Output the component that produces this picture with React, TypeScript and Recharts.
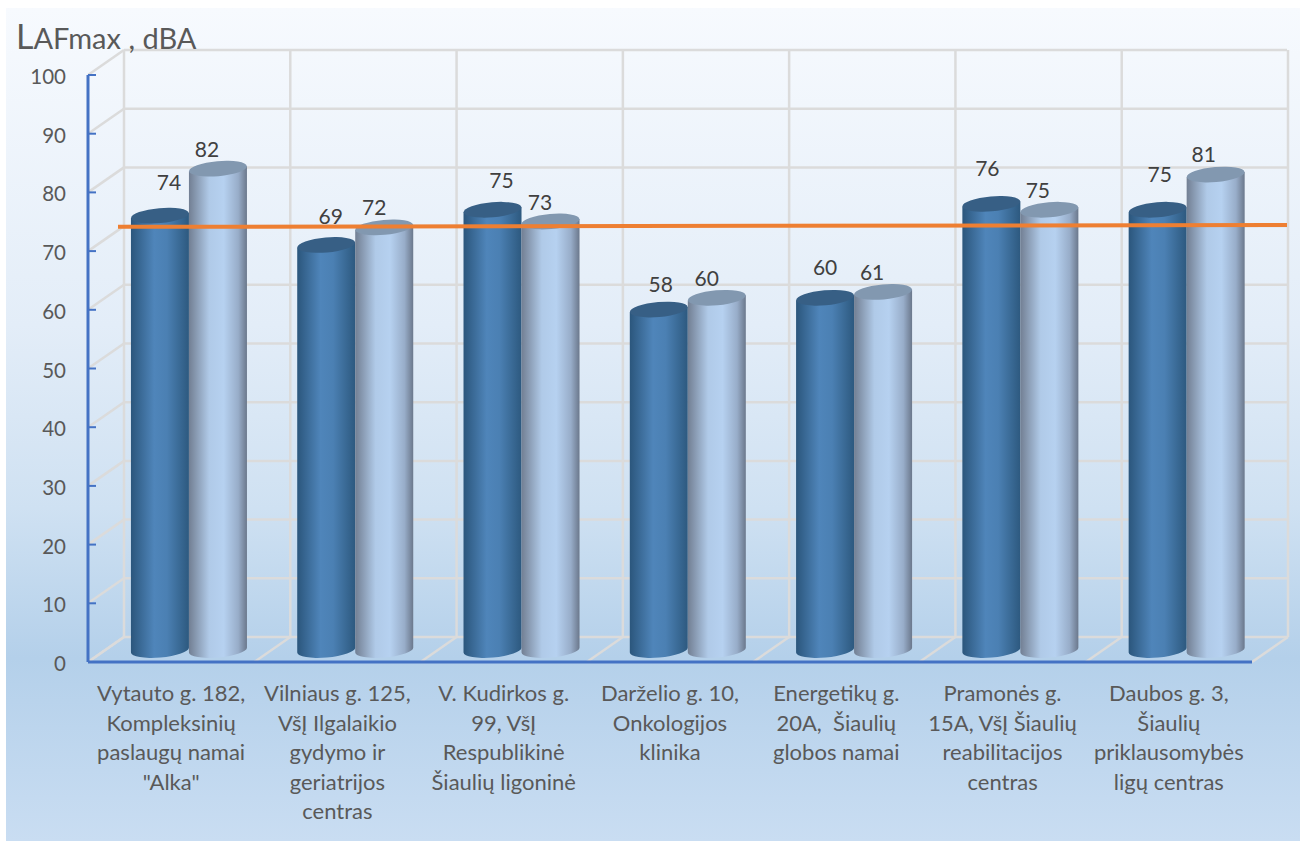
import { BarChart, Bar, XAxis, YAxis, CartesianGrid, LabelList, ReferenceLine } from "recharts";

const CATEGORIES = [
  'Vytauto g. 182,|Kompleksinių|paslaugų namai|"Alka"',
  "Vilniaus g. 125,|VšĮ Ilgalaikio|gydymo ir|geriatrijos|centras",
  "V. Kudirkos g.|99, VšĮ|Respublikinė|Šiaulių ligoninė",
  "Darželio g. 10,|Onkologijos|klinika",
  "Energetikų g.|20A,  Šiaulių|globos namai",
  "Pramonės g.|15A, VšĮ Šiaulių|reabilitacijos|centras",
  "Daubos g. 3,|Šiaulių|priklausomybės|ligų centras",
];
const SERIES_A = [74, 69, 75, 58, 60, 76, 75];
const SERIES_B = [82, 72, 73, 60, 61, 75, 81];
const Y_TICKS = [0, 10, 20, 30, 40, 50, 60, 70, 80, 90, 100];
const LIMIT = 74.2;

const data = CATEGORIES.map((name, i) => ({ name, a: SERIES_A[i], b: SERIES_B[i] }));

const WIDTH = 1300;
const HEIGHT = 841;
const PLOT_LEFT = 88;
const PLOT_RIGHT = 1252;
const PLOT_TOP = 75;
const PLOT_BOTTOM = 662;
// 3D look: back wall is shifted by this much, bars sit half way
const DEPTH_X = 36;
const DEPTH_Y = -25;
const BAR_DX = 18;
const BAR_DY = -12;
const RY = 7.5;
const TILT = -5;
const TILT_Y = 2.5;

const FONT = "Lato, sans-serif";
const GRID = "#dbdbdb";
const AXIS = "#4472c4";
const TEXT = "#595959";

// label nudges per bar, from the bar's top centre
const LABEL_OFFSET_A = [[9, -33], [4.5, -28], [9, -29], [2, -24.5], [0, -30], [-4, -35], [2, -35]];
const LABEL_OFFSET_B = [[-11, -19], [-10, -19], [-10.5, -18.5], [-10, -19], [-11, -19], [-11.5, -19], [-12, -19.5]];

function Cylinder(props: any) {
  const { x, y, width, height, side, top } = props;
  const left = x + BAR_DX;
  const right = left + width;
  const topY = y + BAR_DY;
  const baseY = y + height + BAR_DY;
  const rx = width / 2;
  const d = `M${left},${topY + TILT_Y} L${left},${baseY + TILT_Y} A${rx},${RY} ${TILT} 0 0 ${right},${baseY - TILT_Y} L${right},${topY - TILT_Y} Z`;
  return (
    <g>
      <path d={d} fill={`url(#${side})`} />
      <ellipse
        cx={left + rx}
        cy={topY}
        rx={rx}
        ry={RY}
        fill={top}
        transform={`rotate(${TILT} ${left + rx} ${topY})`}
      />
    </g>
  );
}

function valueLabel(offsets: number[][]) {
  return (props: any) => {
    const { x, y, width, value, index } = props;
    const [dx, dy] = offsets[index];
    return (
      <text
        x={x + BAR_DX + width / 2 + dx}
        y={y + BAR_DY + dy + 7}
        textAnchor="middle"
        fontFamily={FONT}
        fontSize={21}
        fill="#404040"
      >
        {value}
      </text>
    );
  };
}

function YTick({ y, payload }: any) {
  return (
    <g>
      <line x1={PLOT_LEFT} y1={y} x2={PLOT_LEFT + 8} y2={y} stroke={AXIS} strokeWidth={2} />
      <text x={66} y={y + 9} textAnchor="end" fontFamily={FONT} fontSize={20.5} fill={TEXT}>
        {payload.value}
      </text>
    </g>
  );
}

function XTick({ x, payload }: any) {
  const lines = String(payload.value).split("|");
  return (
    <text textAnchor="middle" fontFamily={FONT} fontSize={22} fill={TEXT}>
      {lines.map((line, i) => (
        <tspan key={i} x={x} y={701 + i * 29.5} xmlSpace="preserve">
          {line}
        </tspan>
      ))}
    </text>
  );
}

function gridHorizontal({ x1, y1, x2, key }: any) {
  return (
    <g key={key}>
      <line x1={x1} y1={y1} x2={x1 + DEPTH_X} y2={y1 + DEPTH_Y} stroke={GRID} strokeWidth={2.5} />
      <line x1={x1 + DEPTH_X} y1={y1 + DEPTH_Y} x2={x2 + DEPTH_X - 1} y2={y1 + DEPTH_Y} stroke={GRID} strokeWidth={2.5} />
    </g>
  );
}

function gridVertical({ x1, y1, y2, key }: any) {
  return (
    <g key={key}>
      <line x1={x1} y1={y2} x2={x1 + DEPTH_X} y2={y2 + DEPTH_Y} stroke={GRID} strokeWidth={2.5} />
      <line x1={x1 + DEPTH_X} y1={y1 + DEPTH_Y} x2={x1 + DEPTH_X} y2={y2 + DEPTH_Y} stroke={GRID} strokeWidth={2.5} />
    </g>
  );
}

function LimitLine({ x1, y1, x2, y2 }: any) {
  return <line x1={x1 + 30} y1={y1 + 0.4} x2={x2 + 35} y2={y2 - 1.4} stroke="#ee7f32" strokeWidth={4} />;
}

export default function App() {
  const step = (PLOT_RIGHT - PLOT_LEFT) / CATEGORIES.length;
  const boundaries = [...CATEGORIES.map((_, i) => PLOT_LEFT + i * step), PLOT_RIGHT];
  return (
    <div style={{ position: "absolute", left: 0, top: 0, width: WIDTH, height: HEIGHT, background: "#fff", overflow: "hidden" }}>
      <div
        style={{
          position: "absolute",
          left: 6,
          top: 8,
          right: 0,
          bottom: 0,
          background: "linear-gradient(180deg, #f7fafe 0%, #e3edf8 38%, #cfe1f2 60%, #b4d0ea 78%, #c9ddf2 100%)",
        }}
      />
      <div style={{ position: "absolute", left: 0, top: 0 }}>
        <BarChart
          width={WIDTH}
          height={HEIGHT}
          data={data}
          barGap={0}
          barCategoryGap="15%"
          margin={{ top: PLOT_TOP, right: WIDTH - PLOT_RIGHT, bottom: 0, left: 8 }}
        >
          <defs>
            <linearGradient id="sideA" x1="0" y1="0" x2="1" y2="0">
              <stop offset="0%" stopColor="#2b567c" />
              <stop offset="40%" stopColor="#4f85ba" />
              <stop offset="62%" stopColor="#4b80b3" />
              <stop offset="100%" stopColor="#2d597f" />
            </linearGradient>
            <linearGradient id="sideB" x1="0" y1="0" x2="1" y2="0">
              <stop offset="0%" stopColor="#727f93" />
              <stop offset="35%" stopColor="#b0cae8" />
              <stop offset="60%" stopColor="#b6d1f0" />
              <stop offset="85%" stopColor="#98adc9" />
              <stop offset="100%" stopColor="#6b788c" />
            </linearGradient>
          </defs>
          <CartesianGrid
            horizontal={gridHorizontal}
            vertical={gridVertical}
            verticalCoordinatesGenerator={() => boundaries}
            syncWithTicks={false}
          />
          <XAxis
            dataKey="name"
            interval={0}
            height={HEIGHT - PLOT_BOTTOM}
            tickLine={false}
            axisLine={{ stroke: AXIS, strokeWidth: 3 }}
            tick={<XTick />}
          />
          <YAxis
            domain={[0, 100]}
            ticks={Y_TICKS}
            width={80}
            tickLine={false}
            axisLine={{ stroke: AXIS, strokeWidth: 3 }}
            tick={<YTick />}
          />
          <Bar dataKey="a" isAnimationActive={false} shape={<Cylinder side="sideA" top="#375f85" />}>
            <LabelList dataKey="a" content={valueLabel(LABEL_OFFSET_A)} />
          </Bar>
          <Bar dataKey="b" isAnimationActive={false} shape={<Cylinder side="sideB" top="#8298b0" />}>
            <LabelList dataKey="b" content={valueLabel(LABEL_OFFSET_B)} />
          </Bar>
          <ReferenceLine y={LIMIT} ifOverflow="visible" shape={<LimitLine />} />
        </BarChart>
      </div>
      <div
        style={{ position: "absolute", left: 16, top: 17, fontFamily: FONT, fontSize: 29, color: TEXT, whiteSpace: "pre", lineHeight: "38px" }}
      >
        <span style={{ fontSize: 34 }}>L</span>AFmax , dBA
      </div>
    </div>
  );
}
